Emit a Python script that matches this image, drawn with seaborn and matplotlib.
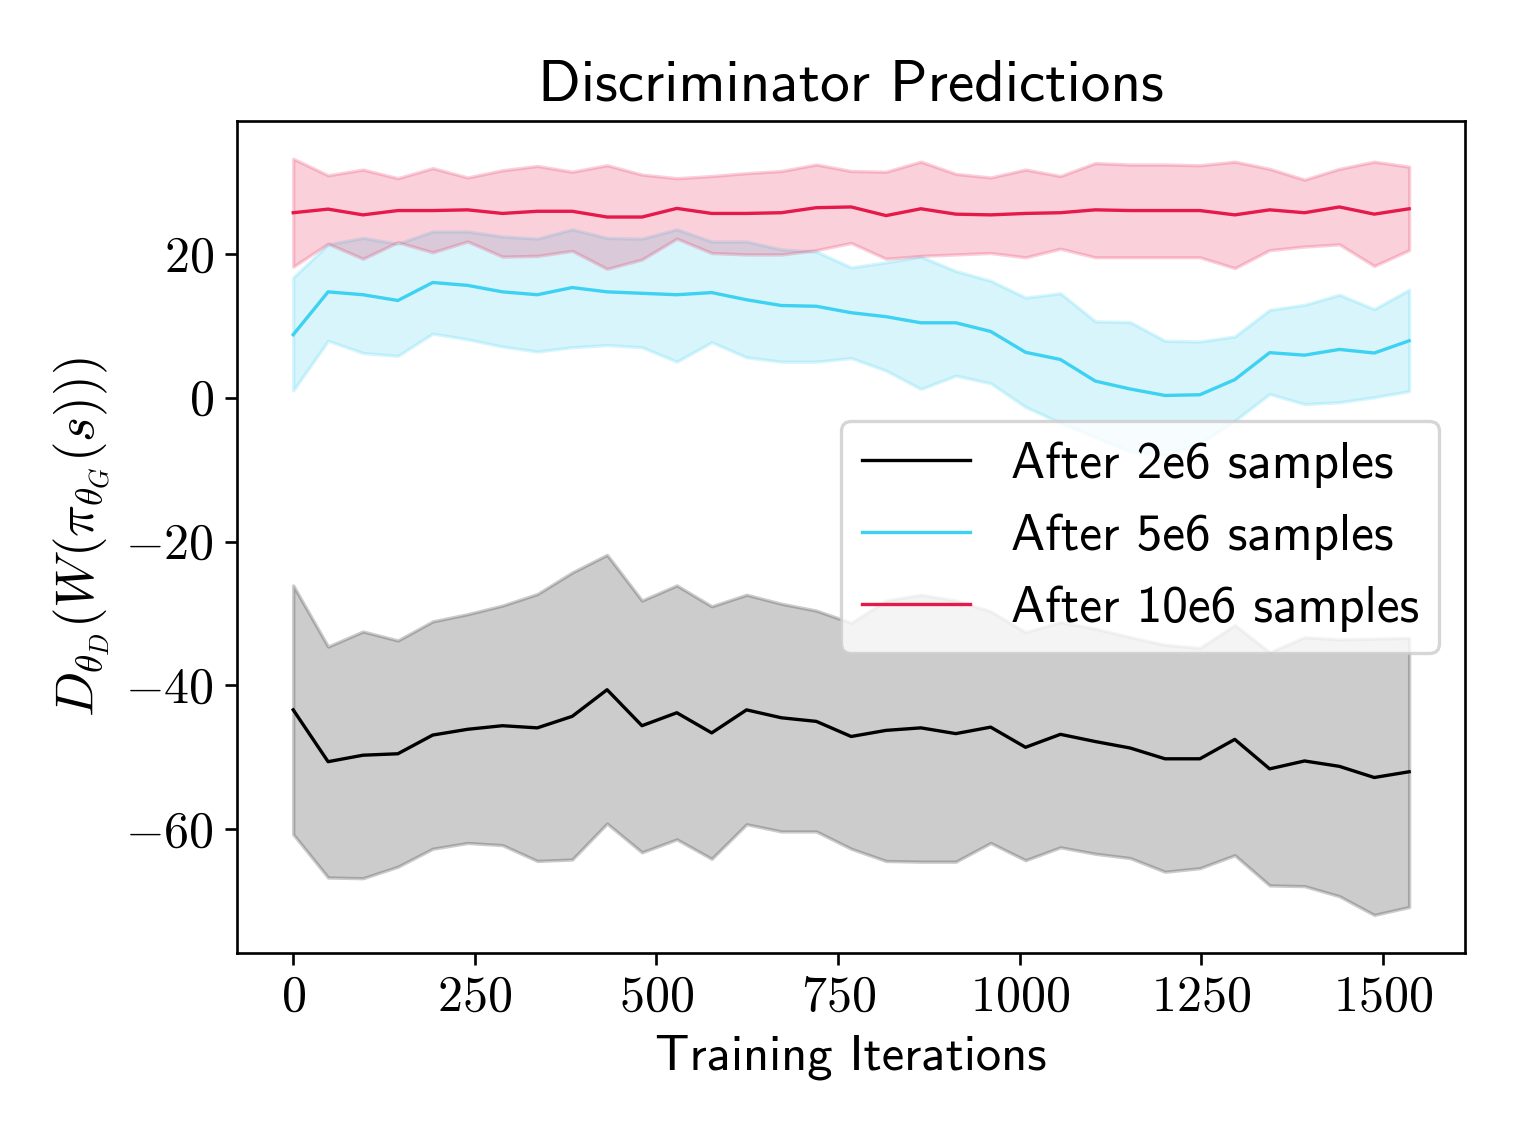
import pandas as pd
import matplotlib
matplotlib.use("Agg")
import matplotlib.pyplot as plt
from matplotlib.ticker import FuncFormatter
import seaborn as sns

# Training iterations (x axis)
iterations = [0, 48, 96, 144, 192, 240, 288, 336, 384, 432, 480, 528, 576, 624, 672,
              720, 768, 816, 864, 912, 960, 1008, 1056, 1104, 1152, 1200, 1248, 1296,
              1344, 1392, 1440, 1488, 1536]

# After 2e6 samples
mean_2e6 = [-43.4, -50.6, -49.7, -49.5, -46.9, -46.1, -45.6, -45.9, -44.3, -40.6, -45.6,
            -43.8, -46.6, -43.4, -44.5, -45.0, -47.1, -46.25, -45.9, -46.7, -45.8, -48.6,
            -46.8, -47.8, -48.7, -50.2, -50.2, -47.5, -51.6, -50.5, -51.25, -52.8, -52.0]
upper_2e6 = [-26.1, -34.6, -32.5, -33.75, -31.1, -30.1, -28.9, -27.3, -24.3, -21.85, -28.2,
             -26.1, -29.0, -27.4, -28.65, -29.6, -31.3, -28.2, -27.4, -28.2, -29.7, -32.6,
             -31.2, -32.1, -33.3, -34.35, -34.8, -31.6, -35.4, -33.3, -33.6, -33.5, -33.4]
lower_2e6 = [-60.7, -66.7, -66.8, -65.2, -62.7, -61.9, -62.2, -64.4, -64.2, -59.2, -63.2,
             -61.4, -64.1, -59.3, -60.3, -60.3, -62.7, -64.4, -64.5, -64.5, -61.9, -64.3,
             -62.5, -63.4, -64.0, -65.9, -65.4, -63.6, -67.8, -67.9, -69.3, -71.9, -70.8]

# After 5e6 samples
mean_5e6 = [8.75, 14.7, 14.3, 13.5, 16.0, 15.6, 14.7, 14.3, 15.3, 14.7, 14.5, 14.3, 14.6,
            13.6, 12.8, 12.7, 11.8, 11.25, 10.4, 10.4, 9.2, 6.3, 5.3, 2.3, 1.2, 0.3, 0.4,
            2.5, 6.25, 5.9, 6.7, 6.2, 7.9]
upper_5e6 = [16.7, 21.3, 22.2, 21.4, 23.1, 23.1, 22.4, 22.1, 23.4, 22.2, 22.1, 23.4, 21.7,
             21.7, 20.6, 20.3, 18.1, 18.8, 19.6, 17.6, 16.25, 13.9, 14.5, 10.6, 10.5, 7.9,
             7.8, 8.5, 12.2, 12.9, 14.3, 12.3, 15.0]
lower_5e6 = [1.0, 7.9, 6.2, 5.8, 8.9, 8.1, 7.1, 6.4, 7.0, 7.3, 7.0, 5.0, 7.7, 5.6, 5.0,
             5.0, 5.5, 3.75, 1.2, 3.05, 2.0, -1.3, -3.5, -5.5, -7.5, -8.0, -6.4, -3.2, 0.5,
             -0.9, -0.65, 0.05, 0.9]

# After 10e6 samples
mean_10e6 = [25.7, 26.2, 25.4, 26.0, 26.0, 26.1, 25.6, 25.9, 25.9, 25.1, 25.1, 26.3, 25.6,
             25.6, 25.7, 26.4, 26.5, 25.3, 26.25, 25.5, 25.4, 25.6, 25.7, 26.1, 26.0, 26.0,
             26.0, 25.4, 26.1, 25.7, 26.5, 25.5, 26.25]
upper_10e6 = [33.2, 30.9, 31.7, 30.5, 31.9, 30.6, 31.6, 32.2, 31.4, 32.3, 31.0, 30.5, 30.8,
              31.2, 31.5, 32.4, 31.5, 31.4, 32.8, 31.1, 30.6, 31.7, 30.8, 32.6, 32.4, 32.4,
              32.3, 32.8, 31.8, 30.3, 31.8, 32.8, 32.1]
lower_10e6 = [18.2, 21.4, 19.3, 21.6, 20.2, 21.7, 19.6, 19.7, 20.4, 17.9, 19.2, 22.1, 20.1,
              19.9, 19.9, 20.5, 21.5, 19.3, 19.7, 19.9, 20.1, 19.5, 20.7, 19.5, 19.5, 19.5,
              19.5, 18.0, 20.5, 21.0, 21.3, 18.3, 20.5]

labels = ["After 2e6 samples", "After 5e6 samples", "After 10e6 samples"]
colors = ["#000000", "#3dd1f2", "#e6194b"]

runs = [(mean_2e6, lower_2e6, upper_2e6),
        (mean_5e6, lower_5e6, upper_5e6),
        (mean_10e6, lower_10e6, upper_10e6)]

# long-form table for seaborn
frames = []
for label, (m, lo, hi) in zip(labels, runs):
    frames.append(pd.DataFrame({"iteration": iterations, "value": m, "run": label}))
df = pd.concat(frames, ignore_index=True)

plt.rcParams["font.family"] = "cmss10"
plt.rcParams["mathtext.fontset"] = "cm"
plt.rcParams["axes.formatter.use_mathtext"] = True
plt.rcParams["font.size"] = 15

fig = plt.figure(figsize=(1522 / 240, 1141 / 240), dpi=240)
ax = fig.add_subplot(111)
fig.subplots_adjust(left=0.156, right=0.9625, top=0.894, bottom=0.165)

for label, color, (m, lo, hi) in zip(labels, colors, runs):
    sns.lineplot(data=df[df["run"] == label], x="iteration", y="value", color=color,
                 linewidth=1.0, label=label, ax=ax)
    ax.fill_between(iterations, lo, hi, color=color, alpha=0.2)

ax.set_xticks([0, 250, 500, 750, 1000, 1250, 1500])
ax.set_yticks([-60, -40, -20, 0, 20])
ax.xaxis.set_major_formatter(FuncFormatter(lambda v, _: f"${v:.0f}$"))
ax.yaxis.set_major_formatter(FuncFormatter(lambda v, _: f"${v:.0f}$"))
ax.tick_params(labelsize=15)

ax.set_title("Discriminator Predictions", fontsize=17.8)
ax.set_xlabel("Training Iterations", fontsize=15.2)
ax.set_ylabel(r"$D_{\theta_D}(W(\pi_{\theta_G}(s)))$", fontsize=16)
ax.legend(loc="center right", fontsize=15.4, handlelength=2.1)

fig.savefig("out.png", dpi=240)
plt.close(fig)
